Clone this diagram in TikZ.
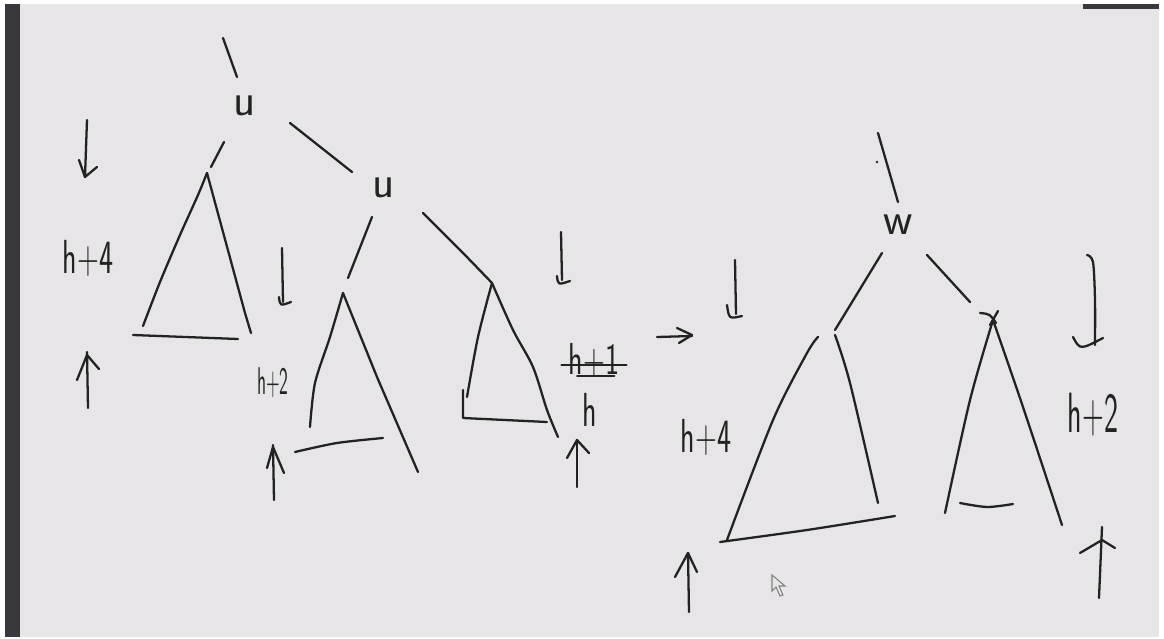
\documentclass[tikz,border=0pt]{standalone}
\usetikzlibrary{positioning}
\definecolor{board}{HTML}{E7E5E8}
\definecolor{ink}{HTML}{222222}
\definecolor{barcol}{HTML}{3A383D}
\newcommand\hand[2][1.6]{\scalebox{1}[#1]{#2}}

\begin{document}
\begin{tikzpicture}[x=0.02cm,y=-0.02cm,
  pen/.style={ink, line width=1.3pt, line cap=round, line join=round},
  key/.style={ink, font=\sffamily\fontsize{26}{26}\selectfont, inner sep=1pt},
  lbl/.style={ink, font=\sffamily\fontsize{17}{17}\selectfont, inner sep=1pt}]
  \useasboundingbox (0,0) rectangle (1164,639);
  \fill[white] (0,0) rectangle (1164,639);
  \fill[board] (5,4) rectangle (1159,637);
  \fill[barcol] (5,4) rectangle (20,637);
  \fill[barcol] (1083,4) rectangle (1159,9);

  % before the rotation
  \node[key] (ua) at (245,106) {u};
  \node[key] (ub) at (384,188) {u};
  \draw[pen] (223,38) -- (237,77);
  \draw[pen] (224,142) -- (211,167);
  \draw[pen] (290,123) -- (352,172);
  \draw[pen] (372,217) -- (348,278);
  \draw[pen] plot[smooth] coordinates {(423,213) (463,253) (492,283)};

  \draw[pen] plot[smooth] coordinates {(143,326) (160,282) (180,235) (198,195) (207,173)};
  \draw[pen] (207,173) -- (245,313) -- (251,333);
  \draw[pen] (133,335) -- (238,339);

  \draw[pen] plot[smooth] coordinates {(310,427) (315,383) (330,337) (343,293)};
  \draw[pen] (343,293) -- (377,377) -- (418,472);
  \draw[pen] plot[smooth] coordinates {(295,452) (337,443) (383,438)};

  \draw[pen] (463,390) -- (463,418) -- (547,422);
  \draw[pen] plot[smooth] coordinates {(467,397) (478,337) (492,283)};
  \draw[pen] plot[smooth] coordinates {(492,283) (513,330) (533,367) (547,410) (558,437)};

  \node[lbl] (ha) at (88,258) {\hand{h+4}};
  \node[lbl, font=\sffamily\fontsize{10}{10}\selectfont] (hb) at (273,383) {\hand[2.2]{h+2}};
  \node[lbl] (hc) at (594,360) {\hand[1.5]{h+1}};
  \draw[pen] ([xshift=-3pt,yshift=-3pt]hc.west) -- ([xshift=3pt,yshift=-3pt]hc.east);
  \draw[pen] ([xshift=6pt,yshift=-9pt]hc.west) -- ([xshift=-4pt,yshift=-9pt]hc.east);
  \node[lbl] (hd) at (590,410) {\hand{h}};

  % arrows beside the subtrees
  \draw[pen] (87,120) -- (85,177) -- (97,167);
  \draw[pen] (79,160) -- (85,177);
  \draw[pen] (88,408) -- (87,352);
  \draw[pen] (77,380) -- (87,355) -- (99,369);
  \draw[pen] (282,248) -- (283,302);
  \draw[pen] (279,297) .. controls (280,306) .. (291,302);
  \draw[pen] (273,445) -- (274,500);
  \draw[pen] (267,468) -- (273,447) -- (284,473);
  \draw[pen] (561,232) -- (562,280);
  \draw[pen] (557,276) .. controls (558,285) .. (570,281);
  \draw[pen] (577,440) -- (577,487);
  \draw[pen] (567,458) -- (577,440) -- (589,453);

  \draw[pen] (657,337) -- (692,336);
  \draw[pen] (677,328) -- (692,335) -- (679,343);

  % after the rotation
  \node[key] (wa) at (898,225) {w};
  \draw[pen] (878,133) -- (898,202);
  \fill[ink] (877,162) circle (1.3);
  \draw[pen] (882,253) -- (835,330);
  \draw[pen] (927,255) -- (970,302);
  \draw[pen] (980,313) .. controls (990,314) .. (996,323);
  \draw[pen] (998,311) -- (990,325);

  \draw[pen] plot[smooth] coordinates {(818,337) (807,353) (773,420) (727,540)};
  \draw[pen] plot[smooth] coordinates {(835,335) (850,383) (878,503)};
  \draw[pen] plot[smooth] coordinates {(720,542) (807,530) (895,516)};

  \draw[pen] plot[smooth] coordinates {(945,513) (970,400) (993,320)};
  \draw[pen] plot[smooth] coordinates {(993,320) (1023,407) (1062,525)};
  \draw[pen] plot[smooth] coordinates {(960,503) (987,507) (1013,504)};

  \node[lbl] (he) at (706,437) {\hand{h+4}};
  \node[lbl] (hf) at (1093,415) {\hand[1.9]{h+2}};

  \draw[pen] (735,260) -- (736,314);
  \draw[pen] (727,305) .. controls (729,319) .. (742,316);
  \draw[pen] plot[smooth] coordinates {(1087,255) (1093,262) (1095,300) (1095,345)};
  \draw[pen] (1073,337) .. controls (1080,350) .. (1103,338);
  \draw[pen] (688,553) -- (689,612);
  \draw[pen] (675,577) -- (688,553) -- (697,572);
  \draw[pen] (1102,527) -- (1099,598);
  \draw[pen] (1080,553) -- (1102,540) -- (1115,548);

  % pointer
  \draw[gray, line width=0.6pt, fill=board] (772,575) -- (772,591) -- (776,587)
    -- (780,596) -- (783,595) -- (779,586) -- (785,586) -- cycle;
\end{tikzpicture}
\end{document}
